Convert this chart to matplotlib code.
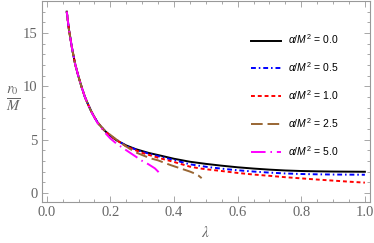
import matplotlib
matplotlib.use("Agg")
import matplotlib.pyplot as plt

# lambda grid shared by the early (common) part of all curves
lam_common = [0.063, 0.07, 0.08, 0.09, 0.10, 0.11, 0.12, 0.13, 0.14, 0.15, 0.16, 0.18, 0.20]
r_common = [17.0, 15.3, 13.5, 12.0, 10.9, 9.9, 9.0, 8.3, 7.65, 7.1, 6.6, 5.9, 5.35]

# alpha/M^2 = 0.0
lam_a0 = [0.22, 0.25, 0.28, 0.32, 0.36, 0.40, 0.45, 0.50, 0.55, 0.60, 0.65, 0.70,
          0.75, 0.80, 0.85, 0.90, 0.95, 1.0]
r_a0 = [4.92, 4.45, 4.10, 3.75, 3.48, 3.20, 2.92, 2.72, 2.55, 2.40, 2.28, 2.18,
        2.10, 2.05, 2.02, 2.00, 1.99, 1.98]

# alpha/M^2 = 0.5
lam_a05 = [0.25, 0.30, 0.35, 0.40, 0.45, 0.50, 0.55, 0.60, 0.65, 0.70, 0.75, 0.80,
           0.85, 0.90, 0.95, 1.0]
r_a05 = [4.40, 3.85, 3.45, 3.08, 2.68, 2.45, 2.27, 2.12, 2.00, 1.90, 1.82, 1.77,
         1.74, 1.72, 1.71, 1.70]

# alpha/M^2 = 1.0
lam_a1 = [0.25, 0.30, 0.35, 0.40, 0.45, 0.48, 0.50, 0.55, 0.60, 0.65, 0.70, 0.75,
          0.80, 0.85, 0.90, 0.95, 1.0]
r_a1 = [4.35, 3.75, 3.30, 2.90, 2.46, 2.30, 2.22, 2.05, 1.87, 1.72, 1.60, 1.47,
        1.36, 1.25, 1.15, 1.05, 0.96]

# alpha/M^2 = 2.5
lam_a25 = [0.23, 0.26, 0.28, 0.30, 0.325, 0.35, 0.37, 0.39, 0.41, 0.43, 0.45,
           0.465, 0.477, 0.487]
r_a25 = [4.75, 4.15, 3.80, 3.55, 3.25, 3.05, 2.82, 2.60, 2.40, 2.20, 2.00,
         1.82, 1.62, 1.38]

# alpha/M^2 = 5.0
lam_a5 = [0.14, 0.16, 0.18, 0.20, 0.22, 0.24, 0.26, 0.28, 0.30, 0.32, 0.34, 0.35, 0.356]
r_a5 = [7.60, 6.55, 5.75, 5.10, 4.60, 4.20, 3.80, 3.40, 3.00, 2.68, 2.30, 2.00, 1.70]

labels = ["0.0", "0.5", "1.0", "2.5", "5.0"]
colors = ["black", "blue", "red", (0.6, 0.4, 0.2), (1, 0, 1)]
styles = ["-", (0, (2.5, 1.5, 0.8, 1.5)), (0, (2, 1.5)), (0, (6, 2.5)),
          (0, (7.5, 2.5, 0.8, 2.5))]

series = [
    (lam_common + lam_a0, r_common + r_a0),
    (lam_common + lam_a05, r_common + r_a05),
    (lam_common + lam_a1, r_common + r_a1),
    (lam_common[:-1] + lam_a25, r_common[:-1] + r_a25),
    ([l for l in lam_common if l < 0.14] + lam_a5,
     [r for l, r in zip(lam_common, r_common) if l < 0.14] + r_a5),
]

plt.rcParams["mathtext.fontset"] = "custom"
plt.rcParams["mathtext.it"] = "Liberation Sans:italic"
plt.rcParams["mathtext.rm"] = "Liberation Sans"

gray = "#666666"
fig = plt.figure(figsize=(3.74, 2.43), dpi=100)
ax = fig.add_axes([0.1115, 0.169, 0.8775, 0.827])

for (x, y), lab, c, ls in zip(series, labels, colors, styles):
    ax.plot(x, y, color=c, ls=ls, lw=1.4, label=r"$\alpha/M^2$ = " + lab)

ax.set_xlim(-0.0157, 1.0157)
ax.set_ylim(-0.85, 18.0)
ax.set_xticks([0.0, 0.2, 0.4, 0.6, 0.8, 1.0])
ax.set_xticklabels(["0.0", "0.2", "0.4", "0.6", "0.8", "1.0"])
ax.set_xticks([i * 0.05 for i in range(21)], minor=True)
ax.set_yticks([0, 5, 10, 15])
ax.set_yticks(list(range(0, 19)), minor=True)
ax.tick_params(which="both", direction="in", top=True, right=True, color="#999999",
               labelcolor=gray, labelsize=10.5, width=0.6)
ax.tick_params(which="major", length=4, pad=3)
ax.tick_params(which="minor", length=2)
for lbl in ax.get_xticklabels() + ax.get_yticklabels():
    lbl.set_family("Liberation Serif")
for s in ax.spines.values():
    s.set_color("#999999")
    s.set_linewidth(0.8)

ax.set_xlabel(r"$\lambda$", color=gray, fontsize=11, math_fontfamily="stix", labelpad=4)
fig.text(0.035, 0.59, r"$\frac{r_0}{M}$", color=gray, fontsize=15,
         math_fontfamily="stix", ha="center", va="center")

ax.legend(loc="upper left", bbox_to_anchor=(0.61, 0.89), frameon=False,
          handlelength=2.9, handletextpad=0.6, labelspacing=1.35,
          prop={"family": "Liberation Sans", "size": 7.5})

fig.savefig("out.png", dpi=100)
